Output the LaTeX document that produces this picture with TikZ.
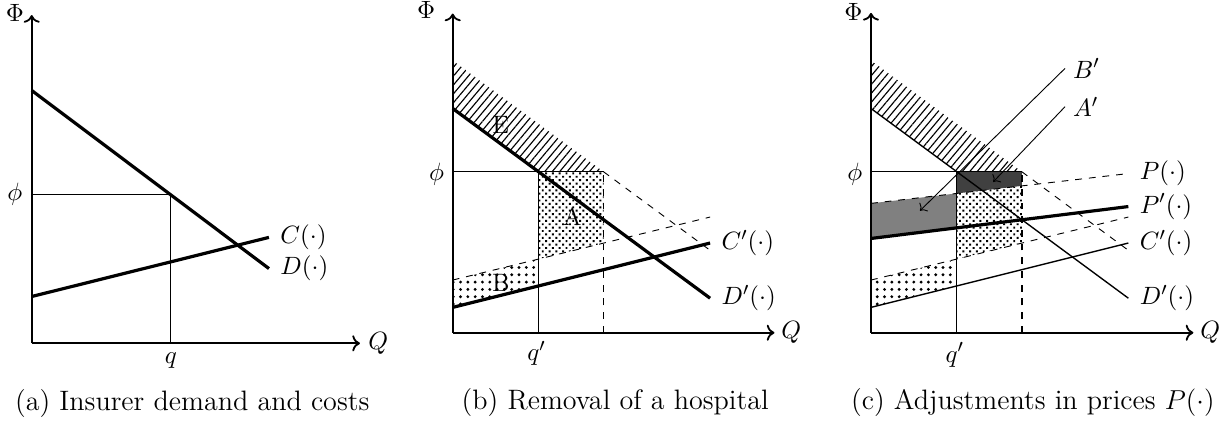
\documentclass[tikz,border=0pt]{standalone}
\usepackage{amsmath,amssymb}
\usepackage{tikz}
\usetikzlibrary{arrows.meta,patterns,patterns.meta}

\begin{document}
\begin{tikzpicture}[font=\fontsize{11}{13}\selectfont, x=1cm, y=1cm,
  axisline/.style={thick,->},
  bold/.style={line width=1.4pt},
  guide/.style={thin},
  olddash/.style={dashed,thin},
  qdash/.style={dashed,thick},
  lab/.style={right=1.5pt},
  subcap/.style={font=\fontsize{12.3}{15}\selectfont},
  hatch/.style={pattern={Lines[angle=50,distance=2.5pt,line width=0.5pt]}},
  sparsedots/.style={pattern={Dots[distance=3.2pt,radius=0.7pt]}},
  densedots/.style={pattern={Dots[angle=45,distance=2.1pt,radius=0.6pt]}}]
\useasboundingbox (-0.488,-1.195) rectangle (18.405,5.282);
% ================= (a) insurer demand and costs =================
\draw[guide] (0,2.29) -- (2.14,2.29) -- (2.14,0);
\draw[bold] (0,3.89) -- (3.65,1.15) coordinate (dA);
\draw[bold] (0,0.72) -- (3.65,1.63) coordinate (cA);
\draw[axisline] (0,0) -- (5.05,0) coordinate (xA);
\draw[axisline] (0,0) -- (0,5.05) coordinate (yA);
\node (PhiA) at (-0.26,5.09) {$\Phi$};
\node (phiA) at (-0.26,2.29) {$\phi$};
\node (qA) at (2.14,-0.26) {$q$};
\node (QA) at (5.33,0) {$Q$};
\node[lab] (cAlab) at (cA) {$C(\cdot)$};
\node[lab] (dAlab) at (dA) {$D(\cdot)$};
\node[subcap] (capA) at (2.47,-0.92) {(a) Insurer demand and costs};
% ================= (b) removal of a hospital =================
\begin{scope}[shift={(6.477,0.163)}]
\def\qp{1.32}\def\xq{2.32}\def\ph{2.477}\def\xe{3.96}
\fill[hatch] (0,4.187) -- (\xq,\ph) -- (\qp,\ph) -- (0,3.45) -- cycle;
\fill[densedots] (\qp,\ph) -- (\xq,\ph) -- (\xq,1.378) -- (\qp,1.133) -- cycle;
\fill[sparsedots] (0,0.81) -- (\qp,1.133) -- (\qp,0.72) -- (0,0.39) -- cycle;
\draw[guide] (0,\ph) -- (\xq,\ph);
\draw[guide] (\qp,0) -- (\qp,\ph);
\draw[qdash] (\xq,0) -- (\xq,\ph);
\draw[olddash] (\xq,\ph) -- (\xe,1.268);
\draw[olddash] (0,0.81) -- (\xe,1.78);
\draw[bold] (0,3.45) -- (\xe,0.531) coordinate (dB);
\draw[bold] (0,0.39) -- (\xe,1.38) coordinate (cB);
\draw[axisline] (0,0) -- (4.95,0) coordinate (xB);
\draw[axisline] (0,0) -- (0,4.91) coordinate (yB);
\node (PhiB) at (-0.41,4.97) {$\Phi$};
\node (phiB) at (-0.25,2.44) {$\phi$};
\node (qB) at (1.29,-0.32) {$q'$};
\node (QB) at (5.21,0) {$Q$};
\node (E) at (0.74,3.195) {E};
\node (A) at (1.84,1.795) {A};
\node (B) at (0.74,0.76) {B};
\node[lab] (cBlab) at (cB) {$C'(\cdot)$};
\node[lab] (dBlab) at (dB) {$D'(\cdot)$};
\node[subcap] (capB) at (2.50,-1.07) {(b) Removal of a hospital};
\end{scope}
% ================= (c) adjustments in prices =================
\begin{scope}[shift={(12.912,0.163)}]
\def\qp{1.32}\def\xq{2.32}\def\ph{2.477}\def\xe{3.96}
\fill[hatch] (0,4.187) -- (\xq,\ph) -- (\qp,\ph) -- (0,3.45) -- cycle;
\fill[black!75] (\qp,\ph) -- (\xq,\ph) -- (\xq,2.259) -- (\qp,2.143) -- cycle;
\fill[black!50] (0,1.99) -- (\qp,2.143) -- (\qp,1.614) -- (0,1.45) -- cycle;
\fill[densedots] (\qp,2.143) -- (\xq,2.259) -- (\xq,1.378) -- (\qp,1.133) -- cycle;
\fill[sparsedots] (0,0.81) -- (\qp,1.133) -- (\qp,0.72) -- (0,0.39) -- cycle;
\draw[guide] (0,\ph) -- (\xq,\ph);
\draw[guide] (\qp,0) -- (\qp,\ph);
\draw[qdash] (\xq,0) -- (\xq,\ph);
\draw[olddash] (\xq,\ph) -- (\xe,1.268);
\draw[olddash] (0,0.81) -- (\xe,1.78);
\draw[olddash] (0,1.99) -- (\xe,2.449) coordinate (pC);
\draw[semithick] (0,3.45) -- (\xe,0.531) coordinate (dC);
\draw[semithick] (0,0.39) -- (\xe,1.38) coordinate (cC);
\draw[bold] (0,1.45) -- (\xe,1.941) coordinate (ppC);
\draw[axisline] (0,0) -- (4.96,0) coordinate (xC);
\draw[axisline] (0,0) -- (0,4.92) coordinate (yC);
% arrows into the two grey areas
\coordinate (bpEnd) at (0.754,1.877);
\coordinate (apEnd) at (1.88,2.32);
\node[right] (Bp) at (2.985,4.066) {$B'$};
\node[right] (Ap) at (2.985,3.477) {$A'$};
\draw[thin,->] (Bp.west) -- (bpEnd);
\draw[thin,->] (Ap.west) -- (apEnd);
\node (PhiC) at (-0.27,4.94) {$\Phi$};
\node (phiC) at (-0.25,2.44) {$\phi$};
\node (qC) at (1.29,-0.34) {$q'$};
\node (QC) at (5.22,0) {$Q$};
\node[lab] (pClab) at (pC) {$P(\cdot)$};
\node[lab] (ppClab) at (ppC) {$P'(\cdot)$};
\node[lab] (cClab) at (cC) {$C'(\cdot)$};
\node[lab] (dClab) at (dC) {$D'(\cdot)$};
\node[subcap] (capC) at (2.49,-1.07) {(c) Adjustments in prices $P(\cdot)$};
\end{scope}
\end{tikzpicture}
\end{document}
